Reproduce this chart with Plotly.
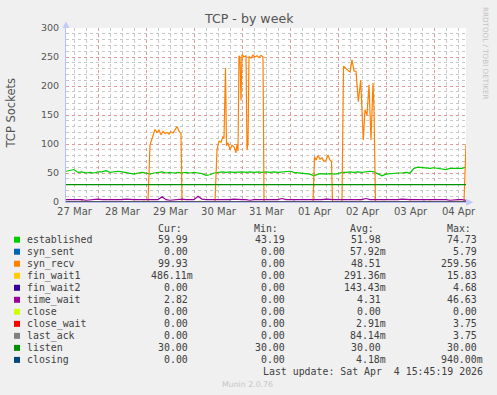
import pandas as pd
import plotly.graph_objects as go

W, H = 497, 395
START = pd.Timestamp("2026-03-27 07:45")
END = pd.Timestamp("2026-04-04 15:45")

# ---- data (hours after START) ----
grid_hours = list(range(0, 201, 2))

established = [53, 55, 56, 51, 52, 50, 51, 50, 52, 52,
               54, 51, 52, 53, 52, 51, 50, 48, 50, 51,
               50, 48, 50, 51, 52, 50, 51, 50, 51, 50,
               51, 50, 51, 50, 49, 46, 47, 50, 51, 52,
               51, 52, 51, 52, 52, 51, 52, 51, 52, 51,
               52, 51, 52, 51, 52, 52, 53, 51, 50, 49,
               49, 48, 45, 48, 49, 48, 49, 48, 49, 51,
               51, 52, 51, 52, 51, 52, 53, 52, 49, 45,
               48, 49, 49, 50, 50, 51, 50, 58, 60, 59,
               58, 58, 59, 58, 58, 56, 58, 58, 59, 58,
               60]

time_wait = [4, 4, 5, 4, 4, 3, 4, 4, 5, 4,
             4, 4, 3, 4, 4, 5, 4, 4, 4, 4,
             3, 4, 4, 4, 9, 4, 3, 4, 4, 5,
             4, 4, 4, 10, 5, 4, 4, 3, 4, 4,
             4, 4, 5, 4, 4, 4, 3, 4, 4, 4,
             4, 4, 5, 4, 6, 4, 4, 4, 3, 4,
             4, 4, 3, 4, 4, 5, 4, 4, 4, 4,
             4, 4, 4, 4, 4, 6, 4, 4, 4, 4,
             3, 4, 4, 4, 5, 4, 4, 4, 4, 4,
             4, 5, 4, 4, 4, 4, 3, 4, 4, 4,
             3]

syn_recv_hours = [0, 41, 42, 43, 44, 44.5, 45.5, 46.5, 47.5, 48.5, 49.5, 50.5, 51.5,
                  52.5, 53.5, 54.5, 55.5, 56.5, 57.5, 58,
                  74.5, 75.5, 76.5, 77.5, 78.5, 79, 79.75, 80.25, 81, 82, 83, 84, 85,
                  85.5, 86, 86.5, 87, 87.5, 88, 89, 90, 90.5, 91, 91.5, 92.5, 93.5,
                  94.5, 95.5, 96.5, 97.5, 98.5, 99,
                  123.5, 124.25, 125, 126, 127, 128, 129, 130, 131, 132, 132.75, 133.25,
                  138, 138.75, 140, 141, 142, 143, 144, 145, 145.5, 146.15, 147.35,
                  148, 148.65, 149.5, 150.5, 151.5, 152.5, 153.5, 154, 154.75,
                  199, 200]
syn_recv = [0, 0, 98, 108, 118, 125, 120, 124, 116, 122, 118, 120, 117,
            121, 119, 124, 130, 122, 118, 0,
            0, 90, 105, 103, 113, 110, 231, 97, 102, 90, 98, 95, 85,
            100, 88, 252, 250, 175, 254, 250, 252, 90, 100, 251, 248, 253,
            250, 252, 249, 253, 250, 0,
            0, 78, 72, 80, 74, 76, 70, 72, 81, 72, 70, 0,
            0, 234, 230, 228, 224, 245, 226, 225, 205, 173, 210,
            170, 107, 159, 150, 202, 107, 205, 160, 0,
            0, 100]

listen_hours = [0, 200]
listen = [30, 30]

fin_wait1_hours = [0, 7, 8, 9, 33, 34, 35, 38, 39, 40, 66, 67, 68, 146, 147, 148,
                   158, 159, 160, 171, 172, 173, 181, 182, 183, 195, 196, 197, 200]
fin_wait1 = [0, 0, 2, 0, 0, 2, 0, 0, 2, 0, 0, 2, 0, 0, 2, 0,
             0, 2, 0, 0, 2, 0, 0, 2, 0, 0, 2, 0, 0.5]

syn_sent_hours = [0, 7, 8, 9, 81, 82, 83, 113, 114, 115, 178, 179, 180, 200]
syn_sent = [0, 0, 2, 0, 0, 1.5, 0, 0, 1.5, 0, 0, 1.5, 0, 0]

fin_wait2_hours = [0, 60, 61, 62, 200]
fin_wait2 = [0, 0, 1, 0, 0]
close_hours = [0, 200]
close = [0, 0]
close_wait_hours = [0, 200]
close_wait = [0, 0]
last_ack_hours = [0, 200]
last_ack = [0, 0]
closing_hours = [0, 200]
closing = [0, 0]

# ---- legend table ----
names = ["established", "syn_sent", "syn_recv", "fin_wait1", "fin_wait2", "time_wait",
         "close", "close_wait", "last_ack", "listen", "closing"]
colors = ["#00CC00", "#0066B3", "#FF8000", "#FFCC00", "#330099", "#990099",
          "#CCFF00", "#FF0000", "#808080", "#008F00", "#00487D"]
cur_vals = ["59.99", "0.00", "99.93", "486.11m", "0.00", "2.82", "0.00", "0.00", "0.00", "30.00", "0.00"]
min_vals = ["43.19", "0.00", "0.00", "0.00", "0.00", "0.00", "0.00", "0.00", "0.00", "30.00", "0.00"]
avg_vals = ["51.98", "57.92m", "48.51", "291.36m", "143.43m", "4.31", "0.00", "2.91m", "84.14m", "30.00", "4.18m"]
max_vals = ["74.73", "5.79", "259.56", "15.83", "4.68", "46.63", "0.00", "3.75", "3.75", "30.00", "940.00m"]
headers = ["Cur:", "Min:", "Avg:", "Max:"]
title_text = "TCP - by week"
y_title = "TCP Sockets"
last_update = "Last update: Sat Apr  4 15:45:19 2026"
footer = "Munin 2.0.76"
side_text = "RRDTOOL / TOBI OETIKER"

series = [
    ("established", grid_hours, established),
    ("syn_sent", syn_sent_hours, syn_sent),
    ("syn_recv", syn_recv_hours, syn_recv),
    ("fin_wait1", fin_wait1_hours, fin_wait1),
    ("fin_wait2", fin_wait2_hours, fin_wait2),
    ("time_wait", grid_hours, time_wait),
    ("close", close_hours, close),
    ("close_wait", close_wait_hours, close_wait),
    ("last_ack", last_ack_hours, last_ack),
    ("listen", listen_hours, listen),
    ("closing", closing_hours, closing),
]

# ---- layout geometry ----
L, R, T, B = 66, 466, 28, 202


def px(x):
    return (x - L) / (R - L)


def py(y):
    return (B - y) / (B - T)


fig = go.Figure()
for (name, hrs, vals), col in zip(series, colors):
    xs = START + pd.to_timedelta(hrs, unit="h")
    fig.add_trace(go.Scatter(x=xs, y=vals, mode="lines", name=name,
                             line=dict(color=col, width=1.2), hoverinfo="skip",
                             showlegend=False))

GRID_MAJ = "#e09a9a"
GRID_MIN = "#c8c8c8"
AXIS_COL = "#b8bef4"
TXT = "#555555"

fig.update_layout(
    width=W, height=H,
    margin=dict(l=L, r=W - R, t=T, b=H - B, pad=0),
    paper_bgcolor="#F0F0F0", plot_bgcolor="#FFFFFF",
    font=dict(family="DejaVu Sans", color=TXT),
    showlegend=False,
)
fig.update_xaxes(
    type="date", range=[START, END],
    tick0="2026-03-28", dtick=86400000, tickformat="%d %b", ticklabelmode="period",
    ticks="", showgrid=True, gridcolor=GRID_MAJ, griddash="dot", gridwidth=1,
    minor=dict(dtick=21600000, tick0="2026-03-28", showgrid=True, gridcolor=GRID_MIN,
               griddash="dot", gridwidth=1),
    showline=True, linecolor=AXIS_COL, linewidth=1, zeroline=False,
    tickfont=dict(size=10, color=TXT, family="DejaVu Sans"),
    fixedrange=True,
)
fig.update_yaxes(
    range=[0, 300], tick0=0, dtick=50, ticks="",
    showgrid=True, gridcolor=GRID_MAJ, griddash="dot", gridwidth=1,
    minor=dict(dtick=10, showgrid=True, gridcolor=GRID_MIN, griddash="dot", gridwidth=1),
    showline=True, linecolor=AXIS_COL, linewidth=1, zeroline=False,
    tickfont=dict(size=9.5, color=TXT, family="DejaVu Sans"),
    ticklabelstandoff=4,
    fixedrange=True,
)

ann = []
shapes = []


def text(x, y, s, size, color=TXT, xanchor="left", family="DejaVu Sans", angle=0):
    ann.append(dict(x=px(x), y=py(y), xref="paper", yref="paper", text=s, showarrow=False,
                    xanchor=xanchor, yanchor="middle", textangle=angle,
                    font=dict(size=size, color=color, family=family),
                    borderpad=0, borderwidth=0))


text(248.5, 18.5, title_text, 12.6, color="#555555", xanchor="center")
text(10.5, 113, y_title, 11.5, color="#555555", xanchor="center", angle=-90)
text(486, 53, side_text, 7.2, color="#c4c4c4", xanchor="center", angle=90)
text(247.5, 384.5, footer, 7.8, color="#c6c6c6", xanchor="center")

MONO = "DejaVu Sans Mono"
FS = 9.9
CW = 5.95
TC = "#404040"
header_left = [158, 253.5, 350, 447]
for hx, h in zip(header_left, headers):
    text(hx, 228.5, h, FS, color=TC, family=MONO)

col_right = [187.5, 284.5, 380.5, 476.8]
row0, dy = 239.7, 12.02
for i, nm in enumerate(names):
    cy = row0 + dy * i
    shapes.append(dict(type="rect", xref="paper", yref="paper",
                       x0=px(14), x1=px(20), y0=py(cy + 3), y1=py(cy - 3),
                       fillcolor=colors[i], line=dict(width=0)))
    text(27, cy, nm, FS, color=TC, family=MONO)
    for cr, vals in zip(col_right, [cur_vals, min_vals, avg_vals, max_vals]):
        v = vals[i]
        xr = cr + (CW if v.endswith("m") else 0)
        text(xr, cy, v, FS, color=TC, family=MONO, xanchor="right")

text(482.5, 371.8, last_update, FS, color=TC, family=MONO, xanchor="right")

# axis arrows
shapes.append(dict(type="path", xref="paper", yref="paper",
                   path=f"M {px(62.5)} {py(28)} L {px(69.5)} {py(28)} L {px(66)} {py(21.5)} Z",
                   fillcolor="#c4caf8", line=dict(width=0)))
shapes.append(dict(type="path", xref="paper", yref="paper",
                   path=f"M {px(466)} {py(198.8)} L {px(466)} {py(205.8)} L {px(473.5)} {py(202.3)} Z",
                   fillcolor="#c4caf8", line=dict(width=0)))

fig.update_layout(annotations=ann, shapes=shapes)
fig.write_html("out.html", config={"displayModeBar": False, "staticPlot": True})
